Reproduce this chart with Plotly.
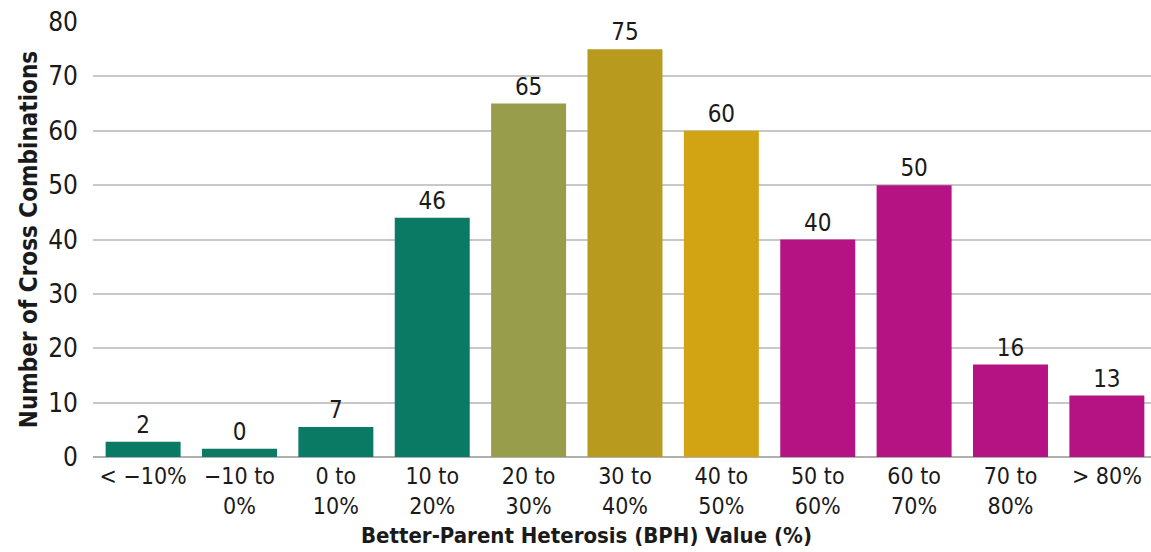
import plotly.graph_objects as go

categories = ["< −10%", "−10 to<br>0%", "0 to<br>10%", "10 to<br>20%", "20 to<br>30%",
              "30 to<br>40%", "40 to<br>50%", "50 to<br>60%", "60 to<br>70%", "70 to<br>80%", "> 80%"]
bar_heights = [2.8, 1.5, 5.5, 44, 65, 75, 60, 40, 50, 17, 11.3]
value_labels = ["2", "0", "7", "46", "65", "75", "60", "40", "50", "16", "13"]
bar_colors = ["#0a7a64", "#0a7a64", "#0a7a64", "#0a7a64", "#979d4a",
              "#b89a1f", "#d2a414", "#b51283", "#b51283", "#b51283", "#b51283"]
y_ticks = [0, 10, 20, 30, 40, 50, 60, 70, 80]

FONT = "DejaVu Sans Condensed, Liberation Sans Narrow, Roboto, sans-serif"

fig = go.Figure()
fig.add_trace(go.Bar(
    x=list(range(len(categories))),
    y=bar_heights,
    marker=dict(color=bar_colors, line=dict(width=0)),
    text=value_labels,
    textposition="outside",
    textfont=dict(family=FONT, size=24, color="#1a1a1a"),
    cliponaxis=False,
))

W, H = 1151, 552
L, R, T, B = 93, 0, 22, 94.5
fig.update_layout(
    width=W, height=H,
    margin=dict(l=L, r=R, t=T, b=B),
    paper_bgcolor="white", plot_bgcolor="white",
    bargap=0.222,
    showlegend=False,
    font=dict(family=FONT, color="#1a1a1a"),
    xaxis=dict(
        tickmode="array",
        tickvals=list(range(len(categories))),
        ticktext=categories,
        range=[-0.52, 10.458],
        tickfont=dict(family=FONT, size=23, color="#1a1a1a"),
        showgrid=False, showline=False, zeroline=False,
        ticks="", ticklabelstandoff=3,
    ),
    yaxis=dict(
        range=[0, 80],
        tickvals=y_ticks,
        tickfont=dict(family=FONT, size=26, color="#1a1a1a"),
        showgrid=True, gridcolor="#c8c8c8", gridwidth=1.5,
        zeroline=True, zerolinecolor="#b0b0b0", zerolinewidth=1.5,
        showline=False, ticks="", ticklabelstandoff=14,
        title=dict(text="<b>Number of Cross Combinations</b>",
                   font=dict(family=FONT, size=24, color="#1a1a1a"),
                   standoff=3),
    ),
)
fig.add_annotation(
    text="<b>Better-Parent Heterosis (BPH) Value (%)</b>",
    xref="paper", yref="paper",
    x=(586 - L) / (W - L), y=0, yshift=-78,
    xanchor="center", yanchor="middle",
    showarrow=False,
    font=dict(family=FONT, size=22, color="#1a1a1a"),
)

fig.write_html("out.html")
